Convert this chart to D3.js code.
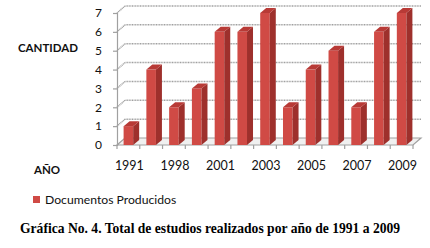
<!DOCTYPE html>
<html>
<head>
<meta charset="utf-8">
<script src="https://cdn.jsdelivr.net/npm/d3@7"></script>
<style>
  body { margin: 0; background: #fff; }
  svg { display: block; }
</style>
</head>
<body>
<svg id="chart" width="430" height="248"></svg>
<script>
const years = ["1991", "1996", "1998", "2000", "2001", "2002", "2003", "2004", "2005", "2006", "2007", "2008", "2009"];
const documentos = [1, 4, 2, 3, 6, 6, 7, 2, 4, 5, 2, 6, 7];
const yTicks = [0, 1, 2, 3, 4, 5, 6, 7];
const shownYears = ["1991", "1998", "2001", "2003", "2005", "2007", "2009"];
const seriesName = "Documentos Producidos";
const yTitle = "CANTIDAD";
const xTitle = "AÑO";
const caption = "Gráfica No. 4. Total de estudios realizados por año de 1991 a 2009";

const svg = d3.select("#chart");
const font = "Lato, 'Open Sans', sans-serif";

const x = d3.scaleBand().domain(years).range([117, 413]).paddingInner(0.58).paddingOuter(0.29);
const y = d3.scaleLinear().domain([0, 7]).range([145, 13]);

// depth of back wall and of bars
const wx = 8, wy = -7;
const bx = 6, by = -5;
const gridColor = "#a0a0a0";

// floor
svg.append("path")
    .attr("d", `M117,${y(0)}L${413},${y(0)}L${413 + wx},${y(0) + wy}L${117 + wx},${y(0) + wy}Z`)
    .attr("fill", "#f0f0f0")
    .attr("stroke", gridColor)
    .attr("stroke-width", 1.2);

// gridlines on side and back wall
svg.append("g").selectAll("path")
    .data(yTicks.slice(1))
    .join("path")
    .attr("d", d => `M117,${y(d)}L${117 + wx},${y(d) + wy}L${413 + wx},${y(d) + wy}`)
    .attr("fill", "none")
    .attr("stroke", gridColor)
    .attr("stroke-width", 1.5)
    .attr("stroke-dasharray", "1,0.6");

// y axis
const yAxis = svg.append("g")
    .attr("transform", "translate(117,0)")
    .call(d3.axisLeft(y).tickValues(yTicks).tickSize(4).tickPadding(11).tickFormat(d3.format("d")));
yAxis.select(".domain").attr("stroke", gridColor).attr("stroke-width", 1.2);
yAxis.selectAll(".tick line").attr("stroke", gridColor).attr("stroke-width", 1.2);
yAxis.selectAll(".tick text").attr("font-family", font).attr("font-size", 12).attr("fill", "#111");

// x axis ticks between bars
const step = x.step();
const xTickPos = d3.range(years.length + 1).map(i => 117 + i * step);
svg.append("g").selectAll("line")
    .data(xTickPos)
    .join("line")
    .attr("x1", d => d).attr("x2", d => d)
    .attr("y1", y(0)).attr("y2", y(0) + 4)
    .attr("stroke", gridColor)
    .attr("stroke-width", 1.2);

svg.append("g").selectAll("text")
    .data(shownYears)
    .join("text")
    .attr("x", d => x(d) + x.bandwidth() / 2 + 1)
    .attr("y", 170)
    .attr("text-anchor", "middle")
    .attr("font-family", font)
    .attr("font-size", 12.5)
    .attr("fill", "#111")
    .text(d => d);

// bars
const data = years.map((yr, i) => ({ year: yr, value: documentos[i] }));
const bars = svg.append("g").selectAll("g")
    .data(data)
    .join("g");

bars.append("rect")
    .attr("x", d => x(d.year))
    .attr("y", d => y(d.value))
    .attr("width", x.bandwidth())
    .attr("height", d => y(0) - y(d.value))
    .attr("fill", "#d04a45");

bars.append("path")
    .attr("d", d => {
        const x1 = x(d.year) + x.bandwidth();
        return `M${x1},${y(d.value)}L${x1 + bx},${y(d.value) + by}L${x1 + bx},${y(0) + by}L${x1},${y(0)}Z`;
    })
    .attr("fill", "#9e302c");

bars.append("path")
    .attr("d", d => {
        const x0 = x(d.year), x1 = x0 + x.bandwidth(), t = y(d.value);
        return `M${x0},${t}L${x0 + bx},${t + by}L${x1 + bx},${t + by}L${x1},${t}Z`;
    })
    .attr("fill", "#b83a36");

// axis titles
svg.append("text")
    .attr("x", 48).attr("y", 52)
    .attr("text-anchor", "middle")
    .attr("font-family", font)
    .attr("font-weight", "bold")
    .attr("font-size", 11.5)
    .attr("fill", "#111")
    .text(yTitle);

svg.append("text")
    .attr("x", 47).attr("y", 174)
    .attr("text-anchor", "middle")
    .attr("font-family", font)
    .attr("font-weight", "bold")
    .attr("font-size", 11.5)
    .attr("fill", "#111")
    .text(xTitle);

// legend
svg.append("rect")
    .attr("x", 33).attr("y", 196)
    .attr("width", 7).attr("height", 7)
    .attr("fill", "#d04a45");
svg.append("text")
    .attr("x", 45).attr("y", 204)
    .attr("font-family", font)
    .attr("font-size", 12.2)
    .attr("fill", "#111")
    .text(seriesName);

// caption
svg.append("text")
    .attr("x", 20).attr("y", 233)
    .attr("font-family", "'Liberation Serif', 'Times New Roman', serif")
    .attr("font-weight", "bold")
    .attr("font-size", 13.6)
    .attr("fill", "#000")
    .text(caption);
</script>
</body>
</html>
